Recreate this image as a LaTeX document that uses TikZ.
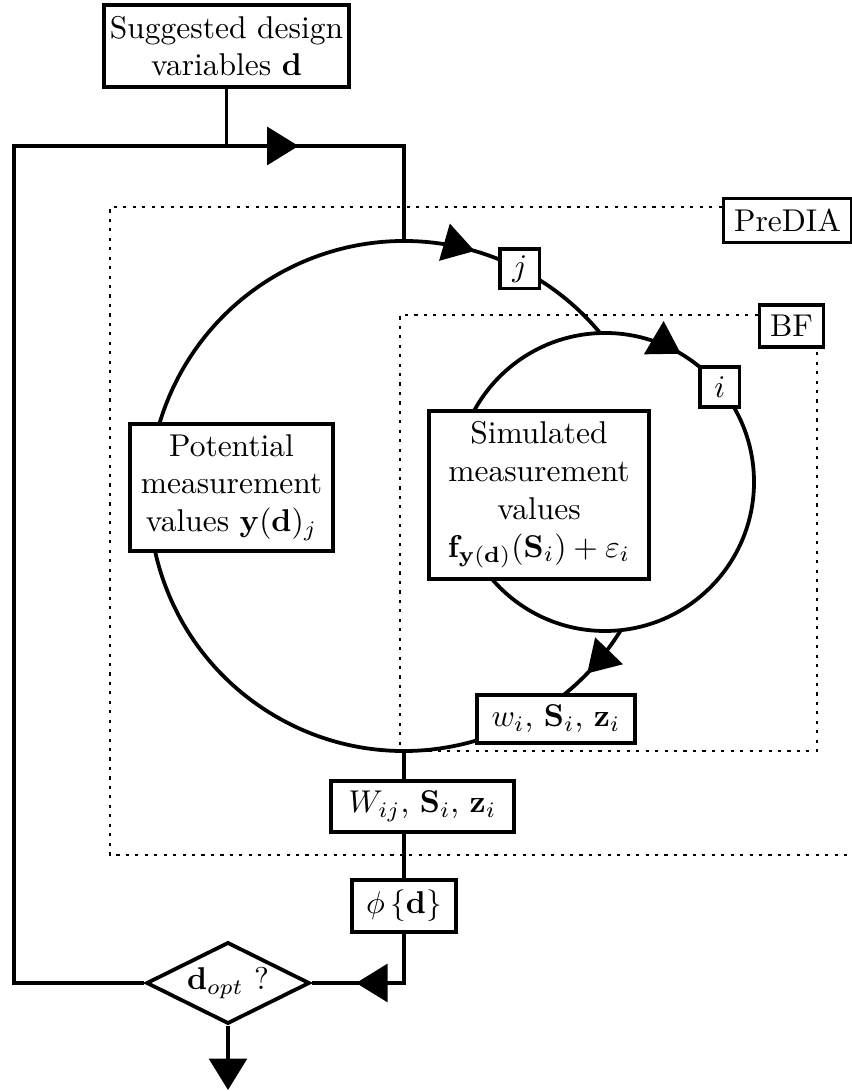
\documentclass[tikz,border=0pt]{standalone}
\usepackage{amsmath}
\usetikzlibrary{arrows.meta, shapes.geometric, decorations.markings, backgrounds}

\tikzset{
  box/.style={draw, line width=1.2pt, fill=white, align=center},
  idx/.style={box, minimum size=12.5pt, inner sep=0pt},
  flow/.style={line width=1.2pt},
  dotframe/.style={line width=0.6pt, dash pattern=on 1pt off 2pt},
  flowmark/.style={decoration={markings, mark=at position #1 with {\arrow{Triangle[length=10pt,width=12pt]}}}, postaction={decorate}},
}

\begin{document}
\begin{tikzpicture}[x=0.3175pt, y=0.3175pt]
  \useasboundingbox (0,0) rectangle (851,1091);

  % centres of the two loops (outer over j, inner over i)
  \coordinate (c1) at (404,595);
  \coordinate (c2) at (605,609);
  \def\rbig{255}
  \def\rsmall{149}

  % boxes
  \node[box, inner xsep=2pt] (sugg) at (226.5,1045) {Suggested design\\variables $\mathbf{d}$};
  \node[box] (pot) at (231.5,603.5) {Potential\\measurement\\values $\mathbf{y}(\mathbf{d})_j$};
  \node[box, minimum width=70pt] (sim) at (539,596) {Simulated\\measurement\\values\\$\mathbf{f}_{\mathbf{y}(\mathbf{d})}(\mathbf{S}_i)+\varepsilon_i$};
  \node[idx] (jidx) at ([shift={(63:\rbig)}]c1) {$j$};
  \node[idx] (iidx) at ([shift={(39.6:\rsmall)}]c2) {$i$};
  \node[box, minimum width=50pt] (wloc) at (556,372) {$w_i$, $\mathbf{S}_i$, $\mathbf{z}_i$};
  \node[box, minimum width=58pt] (wglob) at (422.5,284.5) {$W_{ij}$, $\mathbf{S}_i$, $\mathbf{z}_i$};
  \node[box, minimum width=33pt] (phi) at (404,185) {$\phi\left\{\mathbf{d}\right\}$};
  \node[box, diamond, aspect=2, inner sep=1pt] (dopt) at (228,108) {$\mathbf{d}_{opt}$ ?};
  \node[box] (predia) at (787.5,870.5) {PreDIA};
  \node[box] (bf) at (791.5,765) {BF};

  \begin{scope}[on background layer]
    % dotted frames
    \coordinate (pdnw) at (110,884);
    \coordinate (pdse) at (851,236);
    \draw[dotframe] (predia.west |- pdnw) -- (pdnw) |- (pdse);
    \coordinate (bfnw) at (400,776);
    \coordinate (bfse) at (817,340);
    \draw[dotframe] (bf.west |- bfnw) -- (bfnw) |- (bfse) -- (bfse |- bf.south);

    % outer optimisation loop
    \coordinate (jtop) at (404,850);
    \coordinate (jbot) at (404,340);
    \coordinate (lcorner) at (14,945);
    \coordinate (exit) at (228,1);
    \draw[flow] (sugg) -- (sugg |- lcorner);
    \draw[flow, flowmark=0.862] (dopt.west) -| (lcorner) -| (jtop);

    % loop over j
    \draw[flow, flowmark=0.32] (jtop) arc[start angle=90, end angle=39.7, radius=\rbig];
    \draw[flow, flowmark=0.052] ([shift={(-31.7:\rbig)}]c1) arc[start angle=-31.7, end angle=-270, radius=\rbig];
    % loop over i
    \draw[flow, flowmark=0.09] ([shift={(91.8:\rsmall)}]c2) arc[start angle=91.8, end angle=-268.2, radius=\rsmall];

    \draw[flow] (jbot) -- (jbot |- wglob.north);
    \draw[flow] (wglob.south -| phi) -- (phi);
    \draw[flow, flowmark=0.685] (phi) |- (dopt);
    \draw[flow, -{Triangle[length=10pt,width=12pt]}] (dopt) -- (exit);
  \end{scope}
\end{tikzpicture}
\end{document}
